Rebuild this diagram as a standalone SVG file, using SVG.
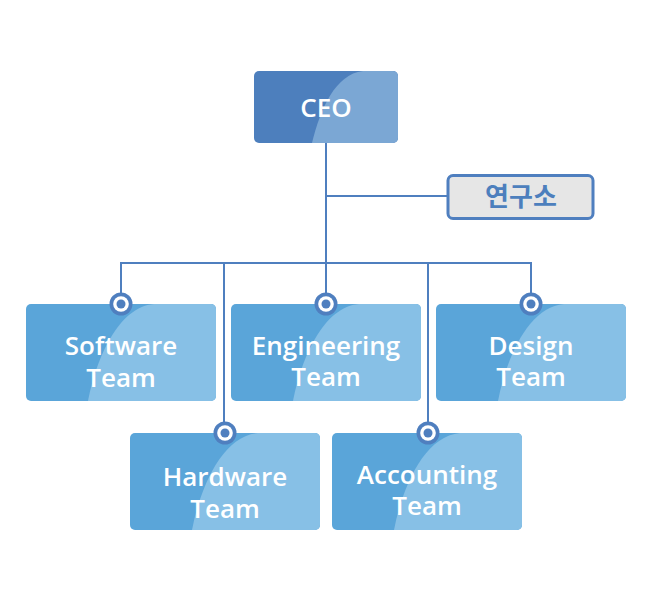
<svg xmlns="http://www.w3.org/2000/svg" width="650" height="600" viewBox="0 0 650 600">
  <defs>
    <style>
      .conn { fill: none; stroke: #4f7fbf; stroke-width: 2; }
      .team-dark { fill: #5aa5d9; }
      .team-light { fill: #87c0e6; }
      .label { font-family: "Open Sans", "Noto Sans", sans-serif; font-weight: 600; font-size: 26px; fill: #ffffff; text-anchor: middle; }
      .pin-outer { fill: #4f7fbf; }
      .pin-ring { fill: #ffffff; }
      .pin-dot { fill: #4f7fbf; }
    </style>
    <clipPath id="clipCeo"><rect x="254" y="71" width="144" height="72" rx="5"/></clipPath>
    <clipPath id="clipTeam"><rect x="0" y="0" width="190" height="97" rx="5"/></clipPath>
    <!-- Team card: two-tone rounded box -->
    <g id="card">
      <g clip-path="url(#clipTeam)">
        <rect class="team-dark" x="0" y="0" width="190" height="97"/>
        <path class="team-light" d="M62,97 C70,55 92,3 128,0 L190,0 L190,97 Z"/>
      </g>
    </g>
    <!-- Connector pin -->
    <g id="pin">
      <circle class="pin-outer" r="11.5"/>
      <circle class="pin-ring" r="7.8"/>
      <circle class="pin-dot" r="4.5"/>
    </g>
  </defs>

  <rect width="650" height="600" fill="#ffffff"/>

  <!-- connectors -->
  <g id="connectors">
    <path class="conn" d="M326,143 V303"/>
    <path class="conn" d="M326,196 H447"/>
    <path class="conn" d="M121,303 V263 H531 V303"/>
    <path class="conn" d="M224,263 V433"/>
    <path class="conn" d="M428,263 V433"/>
  </g>

  <g id="ceo">
    <g clip-path="url(#clipCeo)">
      <rect x="254" y="71" width="144" height="72" fill="#4d7fbd"/>
      <path d="M312,143 C320,110 335,74 363,71 L398,71 L398,143 Z" fill="#7ba7d4"/>
    </g>
    <text class="label" x="326" y="117" font-size="29">CEO</text>
  </g>

  <g id="lab">
    <rect x="448" y="175.5" width="145" height="43" rx="5" fill="#e6e6e6" stroke="#4f7fbf" stroke-width="3"/>
    <text x="521" y="206" font-family="'Noto Sans CJK KR', sans-serif" font-weight="700" font-size="26" fill="#4d7fbd" text-anchor="middle">연구소</text>
  </g>

  <g id="software">
    <use href="#card" x="26" y="304"/>
    <text class="label" x="121" y="355">Software</text>
    <text class="label" x="121" y="387">Team</text>
  </g>

  <g id="engineering">
    <use href="#card" x="231" y="304"/>
    <text class="label" x="326" y="355">Engineering</text>
    <text class="label" x="326" y="386">Team</text>
  </g>

  <g id="design">
    <use href="#card" x="436" y="304"/>
    <text class="label" x="531" y="355">Design</text>
    <text class="label" x="531" y="386">Team</text>
  </g>

  <g id="hardware">
    <use href="#card" x="130" y="433"/>
    <text class="label" x="225" y="486">Hardware</text>
    <text class="label" x="225" y="518">Team</text>
  </g>

  <g id="accounting">
    <use href="#card" x="332" y="433"/>
    <text class="label" x="427" y="484">Accounting</text>
    <text class="label" x="427" y="515">Team</text>
  </g>

  <!-- pins -->
  <g id="pins">
    <use href="#pin" x="121" y="304"/>
    <use href="#pin" x="326" y="304"/>
    <use href="#pin" x="531" y="304"/>
    <use href="#pin" x="225" y="433"/>
    <use href="#pin" x="428" y="433"/>
  </g>
</svg>
